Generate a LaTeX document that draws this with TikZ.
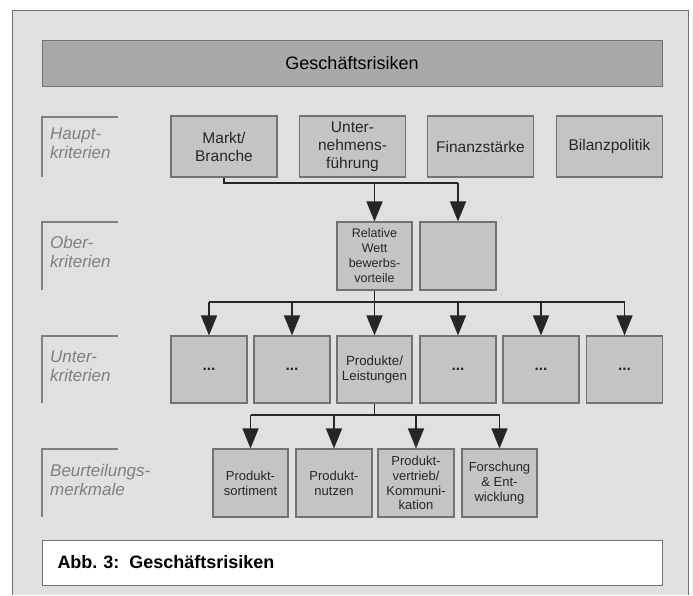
\documentclass[tikz,border=0pt]{standalone}
\usepackage{fontspec}
\setmainfont{Liberation Sans}
\usetikzlibrary{arrows.meta}
\definecolor{panel}{HTML}{E0E0E0}
\definecolor{boxfill}{HTML}{C4C4C4}
\definecolor{boxline}{HTML}{727272}
\definecolor{titlefill}{HTML}{A9A9A9}
\definecolor{labelgray}{HTML}{808080}
\tikzset{
  kasten/.style={draw=boxline, fill=boxfill, line width=1.1pt, minimum width=76pt, minimum height=68pt,
    inner sep=1pt, align=center, text=black!85, font=\fontsize{13}{14.7}\selectfont},
  hauptkasten/.style={kasten, minimum width=106pt, minimum height=61pt, font=\fontsize{15.5}{18}\selectfont},
  punkte/.style={kasten, minimum height=67pt, font=\fontsize{15.5}{18}\selectfont\bfseries},
  ebene/.style={anchor=west, align=left, inner sep=0pt, text=labelgray, font=\fontsize{17}{19}\selectfont\itshape},
  klammer/.style={draw=labelgray, line width=2.6pt},
  conn/.style={draw=black!85, line width=1.4pt},
  pfeil/.style={conn, -{Triangle[length=20pt,width=16pt]}}
}
\begin{document}
\begin{tikzpicture}[x=1pt,y=-1pt]
\useasboundingbox (0,0) rectangle (693,595);
\fill[white] (0,0) rectangle (693,595);
\fill[panel] (12,10) rectangle (688,595);
\draw[boxline, line width=1pt] (12,595) -- (12,10) -- (688,10) -- (688,595);

\node[draw=boxline, fill=titlefill, line width=1pt, minimum width=620pt, minimum height=46pt,
  font=\fontsize{18}{20}\selectfont] (titel) at (352,63) {Geschäftsrisiken};

\draw[klammer] (42,177) -- (42,117) -- (118,117);
\draw[klammer] (42,290) -- (42,222) -- (118,222);
\draw[klammer] (42,403) -- (42,336) -- (118,336);
\draw[klammer] (42,517) -- (42,449) -- (118,449);
\node[ebene] (e1) at (50,143) {Haupt-\\kriterien};
\node[ebene] (e2) at (50,252) {Ober-\\kriterien};
\node[ebene] (e3) at (50,366) {Unter-\\kriterien};
\node[ebene] (e4) at (50,480) {Beurteilungs-\\merkmale};

\node[hauptkasten] (markt) at (224,146.5) {Markt/\\Branche};
\node[hauptkasten] (ufuehr) at (352.5,146.5) {Unter-\\nehmens-\\führung};
\node[hauptkasten] (finanz) at (480.5,146.5) {Finanzstärke};
\node[hauptkasten] (bilanz) at (609.5,146.5) {Bilanzpolitik};

\node[kasten, minimum width=75pt, font=\fontsize{12.5}{15}\selectfont] (rwv) at (374.5,256) {Relative\\Wett\\bewerbs-\\vorteile};
\node[kasten] (leer) at (458,256) {};

\node[punkte] (u1) at (209,369.5) {...};
\node[punkte] (u2) at (292,369.5) {...};
\node[kasten, minimum width=75pt, minimum height=67pt, font=\fontsize{13.3}{15}\selectfont] (u3) at (374.5,369.5) {Produkte/\\Leistungen};
\node[punkte] (u4) at (458,369.5) {...};
\node[punkte] (u5) at (541,369.5) {...};
\node[punkte] (u6) at (624.5,369.5) {...};

\node[kasten, minimum width=75pt] (b1) at (250.5,483) {Produkt-\\sortiment};
\node[kasten] (b2) at (334,483) {Produkt-\\nutzen};
\node[kasten] (b3) at (416,483) {Produkt-\\vertrieb/\\Kommuni-\\kation};
\node[kasten, minimum width=75pt] (b4) at (499.5,483) {Forschung\\\& Ent-\\wicklung};

\node[draw=boxline, fill=white, line width=1pt, minimum width=620pt, minimum height=45pt,
  anchor=west, text width=590pt, font=\fontsize{18}{20}\selectfont\bfseries] (abb) at (42,562.5) {Abb.\ 3:\hspace{0.55em}Geschäftsrisiken};

\coordinate (bus1) at (0,183);
\coordinate (bus2) at (0,302);
\coordinate (bus3) at (0,415);
\draw[conn] (markt.south) |- (leer.north |- bus1);
\draw[pfeil] (rwv.north |- bus1) -- (rwv.north);
\draw[pfeil] (leer.north |- bus1) -- (leer.north);

\draw[conn] (rwv.south) -- (rwv.south |- bus2);
\draw[conn] (u1.north |- bus2) -- (u6.north |- bus2);
\foreach \i in {1,...,6}
  \draw[pfeil] (u\i.north |- bus2) -- (u\i.north);

\draw[conn] (u3.south) -- (u3.south |- bus3);
\draw[conn] (b1.north |- bus3) -- (b4.north |- bus3);
\foreach \i in {1,...,4}
  \draw[pfeil] (b\i.north |- bus3) -- (b\i.north);
\end{tikzpicture}
\end{document}
